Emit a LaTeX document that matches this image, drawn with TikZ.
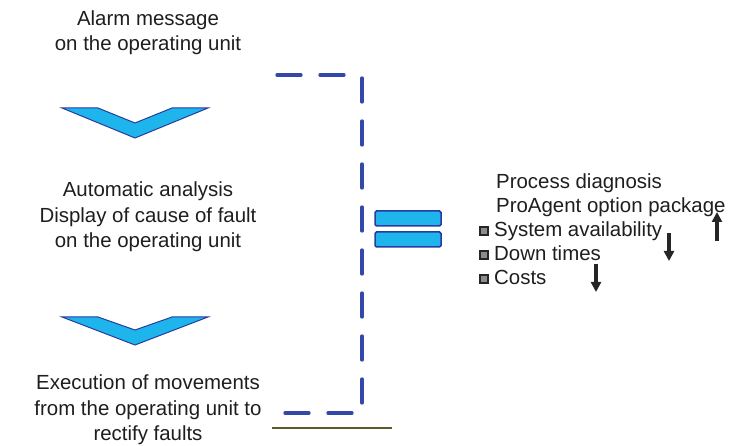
\documentclass[tikz,border=0pt]{standalone}
\usepackage{fontspec}
\setmainfont{Liberation Sans}
\usetikzlibrary{arrows.meta}
\definecolor{chevfill}{RGB}{30,180,236}
\definecolor{chevline}{RGB}{40,60,160}
\definecolor{dashblue}{RGB}{52,72,170}
\definecolor{olive}{RGB}{92,92,40}
\definecolor{textgray}{RGB}{30,30,30}
\begin{document}
\begin{tikzpicture}[x=1bp, y=-1bp,
    every node/.style={text=textgray, font=\fontsize{20.5}{25.5}\selectfont, inner sep=0pt},
    steptext/.style={align=center},
    chevron/.style={fill=chevfill, draw=chevline, line width=1bp, line join=miter},
    bar/.style={fill=chevfill, draw=chevline, line width=1.5bp, rounded corners=1.5bp},
    bracket/.style={draw=dashblue, line width=3.3bp, line cap=round},
    bulletbox/.style={draw=black!85, fill=black!45, line width=2bp, minimum width=8bp, minimum height=8bp},
    trend/.style={draw=black!85, line width=3.6bp, -{Triangle[length=10bp, width=10bp]}}]

    % Fix the size of the page
    \useasboundingbox (0,0) rectangle (741,446);

    % The three steps on the left
    \node[steptext] (alarm) at (148,33) {Alarm message\\on the operating unit};
    \node[steptext] (analysis) at (148,217) {Automatic analysis\\Display of cause of fault\\on the operating unit};
    \node[steptext] (execution) at (148,410) {Execution of movements\\from the operating unit to\\rectify faults};

    % Chevrons between the steps
    \draw[chevron] (62,108) -- (98,108) -- (135,123) -- (172,108) -- (208,108) -- (135,138) -- cycle;
    \draw[chevron] (62,317) -- (98,317) -- (135,330) -- (172,317) -- (208,317) -- (135,345) -- cycle;

    % Dashed bracket round the steps
    \draw[bracket, dash pattern=on 24bp off 19bp] (277,75) -- (347,75);
    \draw[bracket, dash pattern=on 24bp off 19bp] (362,78) -- (362,403);
    \draw[bracket, dash pattern=on 24bp off 19bp] (285,413) -- (353,413);
    \draw[olive, line width=2bp] (272,428) -- (392,428);

    % Equals sign
    \draw[bar] (375,211) rectangle (441,226);
    \draw[bar] (375,232) rectangle (441,247);

    % Result on the right
    \node[anchor=base west] (diag) at (496,189) {Process diagnosis};
    \node[anchor=base west] (package) at (496,213) {ProAgent option package};
    \node[anchor=base west] (avail) at (494,237) {System availability};
    \node[anchor=base west] (down) at (494,261) {Down times};
    \node[anchor=base west] (costs) at (494,285) {Costs};

    % Bullets in front of the items
    \node[bulletbox] (b1) at (484,231) {};
    \node[bulletbox] (b2) at (484,255) {};
    \node[bulletbox] (b3) at (484,279) {};

    % Trend arrows
    \coordinate (upfrom) at (717,241);
    \coordinate (upto) at (717,212);
    \coordinate (downafrom) at (669,233);
    \coordinate (downato) at (669,261);
    \coordinate (downbfrom) at (596,264);
    \coordinate (downbto) at (596,292);
    \draw[trend] (upfrom) -- (upto);
    \draw[trend] (downafrom) -- (downato);
    \draw[trend] (downbfrom) -- (downbto);

\end{tikzpicture}
\end{document}
